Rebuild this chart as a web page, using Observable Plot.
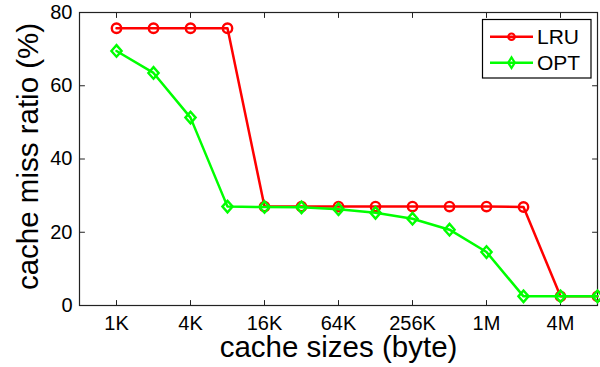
<!DOCTYPE html>
<html>
<head>
<meta charset="utf-8">
<script src="https://cdn.jsdelivr.net/npm/d3@7"></script>
<script src="https://cdn.jsdelivr.net/npm/@observablehq/plot@0.6"></script>
<style>
  html, body { margin: 0; padding: 0; background: #fff; }
  #wrap { position: relative; width: 600px; height: 367px; font-family: "Liberation Sans", Arial, Helvetica, sans-serif; }
  #legend { position: absolute; left: 0; top: 0; pointer-events: none; }
</style>
</head>
<body>
<div id="wrap"></div>
<script>
// ---- data ----
const sizesKB = [1, 2, 4, 8, 16, 32, 64, 128, 256, 512, 1024, 2048, 4096, 8192];
const lruValues = [75.7, 75.7, 75.7, 75.7, 27.0, 27.0, 27.0, 27.0, 27.0, 27.0, 27.0, 26.9, 2.5, 2.5];
const optValues = [69.5, 63.5, 51.3, 27.0, 26.9, 26.8, 26.3, 25.3, 23.7, 20.7, 14.6, 2.5, 2.5, 2.5];
const xTickValues = [1, 4, 16, 64, 256, 1024, 4096];
const xTickLabels = ["1K", "4K", "16K", "64K", "256K", "1M", "4M"];
const yTickValues = [0, 20, 40, 60, 80];
const seriesNames = ["LRU", "OPT"];
const seriesColors = ["#ff0000", "#00ff00"];
const xDomain = [0.5, 8192];
const yDomain = [0, 80];

// ---- helpers ----
const diamond = {
  draw(ctx, size) {
    const r = Math.sqrt(size / Math.PI);
    const w = r * 0.88;
    ctx.moveTo(0, -r); ctx.lineTo(w, 0); ctx.lineTo(0, r); ctx.lineTo(-w, 0); ctx.closePath();
  }
};
const tickShape = { draw(ctx, l) { ctx.moveTo(0, 0); ctx.lineTo(0, -l); } };

const lru = sizesKB.map((s, i) => ({size: s, value: lruValues[i]}));
const opt = sizesKB.map((s, i) => ({size: s, value: optValues[i]}));
const labelOf = new Map(xTickValues.map((v, i) => [v, xTickLabels[i]]));
const FONT = '"Liberation Sans", Arial, Helvetica, sans-serif';
const axisColor = "#222";
const TL = 5;

const chart = Plot.plot({
  width: 600,
  height: 367,
  marginLeft: 79,
  marginRight: 3,
  marginTop: 12,
  marginBottom: 62,
  style: {fontFamily: FONT, background: "#fff", color: "#000", overflow: "visible"},
  x: {type: "log", base: 2, domain: xDomain},
  y: {domain: yDomain},
  marks: [
    Plot.axisX(xTickValues, {tickSize: 0, tickPadding: 10, fontSize: 20, tickFormat: d => labelOf.get(d), label: null}),
    Plot.axisY(yTickValues, {tickSize: 0, tickPadding: 7, fontSize: 20, label: null}),
    Plot.text(["cache sizes (byte)"], {frameAnchor: "bottom", dy: 51, lineAnchor: "bottom", fontSize: 29.5, fill: "#000"}),
    Plot.text(["cache miss ratio (%)"], {frameAnchor: "left", dx: -42, dy: -2.5, rotate: -90, lineAnchor: "bottom", textAnchor: "middle", fontSize: 29.5, fill: "#000"}),
    // inward ticks
    Plot.vector(xTickValues, {x: d => d, y: yDomain[0], length: TL, anchor: "start", rotate: 0, shape: tickShape, stroke: axisColor, strokeWidth: 1}),
    Plot.vector(xTickValues, {x: d => d, y: yDomain[1], length: TL, anchor: "start", rotate: 180, shape: tickShape, stroke: axisColor, strokeWidth: 1}),
    Plot.vector(yTickValues, {y: d => d, x: xDomain[0], length: TL, anchor: "start", rotate: 90, shape: tickShape, stroke: axisColor, strokeWidth: 1}),
    Plot.vector(yTickValues, {y: d => d, x: xDomain[1], length: TL, anchor: "start", rotate: -90, shape: tickShape, stroke: axisColor, strokeWidth: 1}),
    Plot.frame({stroke: axisColor, strokeWidth: 1.2}),
    // LRU
    Plot.line(lru, {x: "size", y: "value", stroke: seriesColors[0], strokeWidth: 2.5}),
    Plot.dot(lru, {x: "size", y: "value", r: 4.7, symbol: "circle", stroke: seriesColors[0], strokeWidth: 2.4, fill: "none"}),
    // OPT
    Plot.line(opt, {x: "size", y: "value", stroke: seriesColors[1], strokeWidth: 2.5}),
    Plot.dot(opt, {x: "size", y: "value", r: 5.8, symbol: diamond, stroke: seriesColors[1], strokeWidth: 2.4, fill: "none"})
  ]
});

const wrap = document.getElementById("wrap");
wrap.appendChild(chart);

// ---- legend ----
const lg = d3.select(wrap).append("svg").attr("id", "legend").attr("width", 600).attr("height", 367);
lg.append("rect").attr("x", 482.5).attr("y", 19.5).attr("width", 108.5).attr("height", 58.5)
  .attr("fill", "#fff").attr("stroke", "#000").attr("stroke-width", 1.2);
const rowY = [36.7, 62.7];
const syms = [d3.symbol().type(d3.symbolCircle).size(Math.PI * 3.2 * 3.2),
              d3.symbol().type({draw(ctx) { ctx.moveTo(0, -5.3); ctx.lineTo(3.3, 0); ctx.lineTo(0, 5.3); ctx.lineTo(-3.3, 0); ctx.closePath(); }})];
seriesNames.forEach((name, i) => {
  const g = lg.append("g");
  g.append("line").attr("x1", 490).attr("x2", 533).attr("y1", rowY[i]).attr("y2", rowY[i])
    .attr("stroke", seriesColors[i]).attr("stroke-width", 2.5);
  g.append("path").attr("d", syms[i]()).attr("transform", `translate(511.5,${rowY[i]})`)
    .attr("fill", "none").attr("stroke", seriesColors[i]).attr("stroke-width", 2.2);
  g.append("text").attr("x", 537).attr("y", rowY[i] + 7.6).text(name)
    .attr("font-family", FONT).attr("font-size", 21).attr("fill", "#000");
});
</script>
</body>
</html>
